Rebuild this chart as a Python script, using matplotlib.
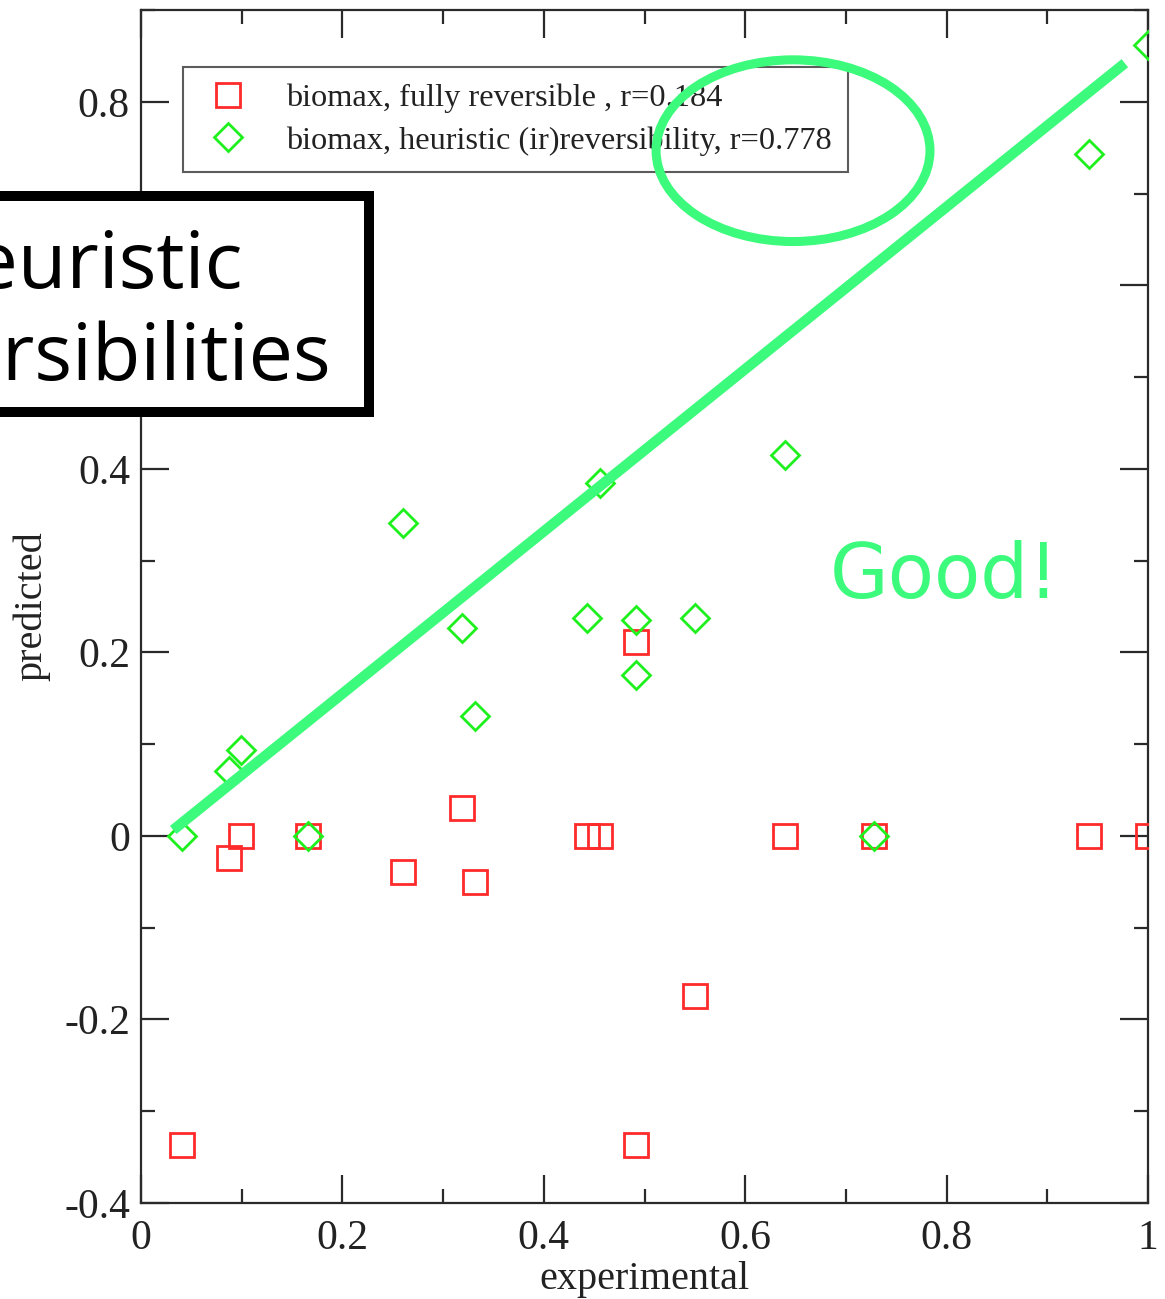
import matplotlib
matplotlib.use("Agg")
import matplotlib.pyplot as plt
from matplotlib.patches import Ellipse, Rectangle
from matplotlib.ticker import MultipleLocator, FuncFormatter

# Flux predictions versus experimental values
experimental = [0.041, 0.087, 0.099, 0.166, 0.260, 0.319, 0.332, 0.443,
                0.456, 0.492, 0.492, 0.550, 0.640, 0.728, 0.941, 1.000]
pred_reversible = [-0.337, -0.024, 0.0, 0.0, -0.039, 0.030, -0.050, 0.0,
                   0.0, 0.211, -0.337, -0.174, 0.0, 0.0, 0.0, 0.0]
pred_heuristic = [0.0, 0.071, 0.094, 0.0, 0.341, 0.227, 0.131, 0.237,
                  0.385, 0.235, 0.175, 0.237, 0.415, 0.0, 0.743, 0.862]

label_reversible = "biomax, fully reversible , r=0.184"
label_heuristic = "biomax, heuristic (ir)reversibility, r=0.778"

# Hand-drawn trend line and highlight ellipse (data coordinates)
trend_x = [0.032, 0.977]
trend_y = [0.0065, 0.842]
ellipse_center = (0.6475, 0.7467)
ellipse_size = (0.272, 0.198)

xticks = [0, 0.2, 0.4, 0.6, 0.8, 1.0]
yticks = [-0.4, -0.2, 0, 0.2, 0.4, 0.6, 0.8]
hidden_ytick = 0.6  # covered by the callout box

W, H = 1165, 1299
plt.rcParams["axes.unicode_minus"] = False
serif = ["Liberation Serif", "DejaVu Serif"]

fig = plt.figure(figsize=(W / 100, H / 100), dpi=100)
ax = fig.add_axes([141 / W, 1 - 1203 / H, (1148 - 141) / W, (1203 - 10) / H])

red = "#ff2a2a"
green = "#1ef01e"
hl = "#3cfa7c"

ax.plot(experimental, pred_reversible, linestyle="none", marker="s",
        markersize=17.5, markerfacecolor="none", markeredgecolor=red,
        markeredgewidth=2.0, label=label_reversible, zorder=3)
ax.plot(experimental, pred_heuristic, linestyle="none", marker="D",
        markersize=14.5, markerfacecolor="none", markeredgecolor=green,
        markeredgewidth=2.0, label=label_heuristic, zorder=3)

ax.set_xlim(0, 1)
ax.set_ylim(-0.4, 0.9)
ax.set_xticks(xticks)
ax.set_yticks(yticks)
ax.xaxis.set_minor_locator(MultipleLocator(0.1))
ax.yaxis.set_minor_locator(MultipleLocator(0.1))
ax.xaxis.set_major_formatter(FuncFormatter(lambda v, p: "%g" % round(v, 3)))
ax.yaxis.set_major_formatter(FuncFormatter(
    lambda v, p: "" if abs(v - hidden_ytick) < 1e-9 else "%g" % round(v, 3)))

spine_c = "#2a2a2a"
for s in ax.spines.values():
    s.set_color(spine_c)
    s.set_linewidth(1.6)
ax.tick_params(which="both", direction="in", top=True, right=True,
               color=spine_c, width=1.6)
ax.tick_params(which="major", length=20)
ax.tick_params(which="minor", length=10)
ax.tick_params(axis="x", which="major", pad=12)
ax.tick_params(axis="y", which="major", pad=8)
for lab in ax.get_xticklabels() + ax.get_yticklabels():
    lab.set_fontfamily(serif)
    lab.set_fontsize(30)
    lab.set_color("#222222")

ax.set_xlabel("experimental", fontfamily=serif, fontsize=29, color="#222222",
              labelpad=2)
ax.set_ylabel("predicted", fontfamily=serif, fontsize=29, color="#222222",
              labelpad=10)

leg = ax.legend(loc="upper left", bbox_to_anchor=(0.0417, 0.952),
                borderaxespad=0, frameon=True, fancybox=False,
                prop={"family": serif, "size": 23.3}, numpoints=1,
                handlelength=1.81, handletextpad=0.88, borderpad=0.5,
                labelspacing=0.4)
leg.get_frame().set_edgecolor("#333333")
leg.get_frame().set_linewidth(1.5)
for t in leg.get_texts():
    t.set_color("#222222")
leg.set_zorder(5)

# Highlight overlays
ax.plot(trend_x, trend_y, color=hl, linewidth=7.5, solid_capstyle="butt",
        zorder=6)
ax.add_patch(Ellipse(ellipse_center, ellipse_size[0], ellipse_size[1],
                     fill=False, edgecolor=hl, linewidth=6.5, zorder=7,
                     clip_on=False))


def fx(px):
    return px / W


def fy(py):
    return 1 - py / H


# Callout box, partly beyond the left edge
box = Rectangle((fx(-300), fy(412)), fx(369) - fx(-300), fy(196) - fy(412),
                transform=fig.transFigure, facecolor="white",
                edgecolor="black", linewidth=7.2, zorder=10)
fig.add_artist(box)
sans = ["Open Sans", "DejaVu Sans"]
fig.text(fx(243), fy(288), "Heuristic", ha="right", va="baseline",
         fontsize=57, family=sans, color="black", zorder=11)
fig.text(fx(331), fy(380), "irreversibilities", ha="right", va="baseline",
         fontsize=57, family=sans, color="black", zorder=11)

fig.text(fx(830), fy(598), "Good!", ha="left", va="baseline", fontsize=54.5,
         family=["DejaVu Sans"], color=hl, zorder=11)

fig.savefig("out.png", dpi=100)
